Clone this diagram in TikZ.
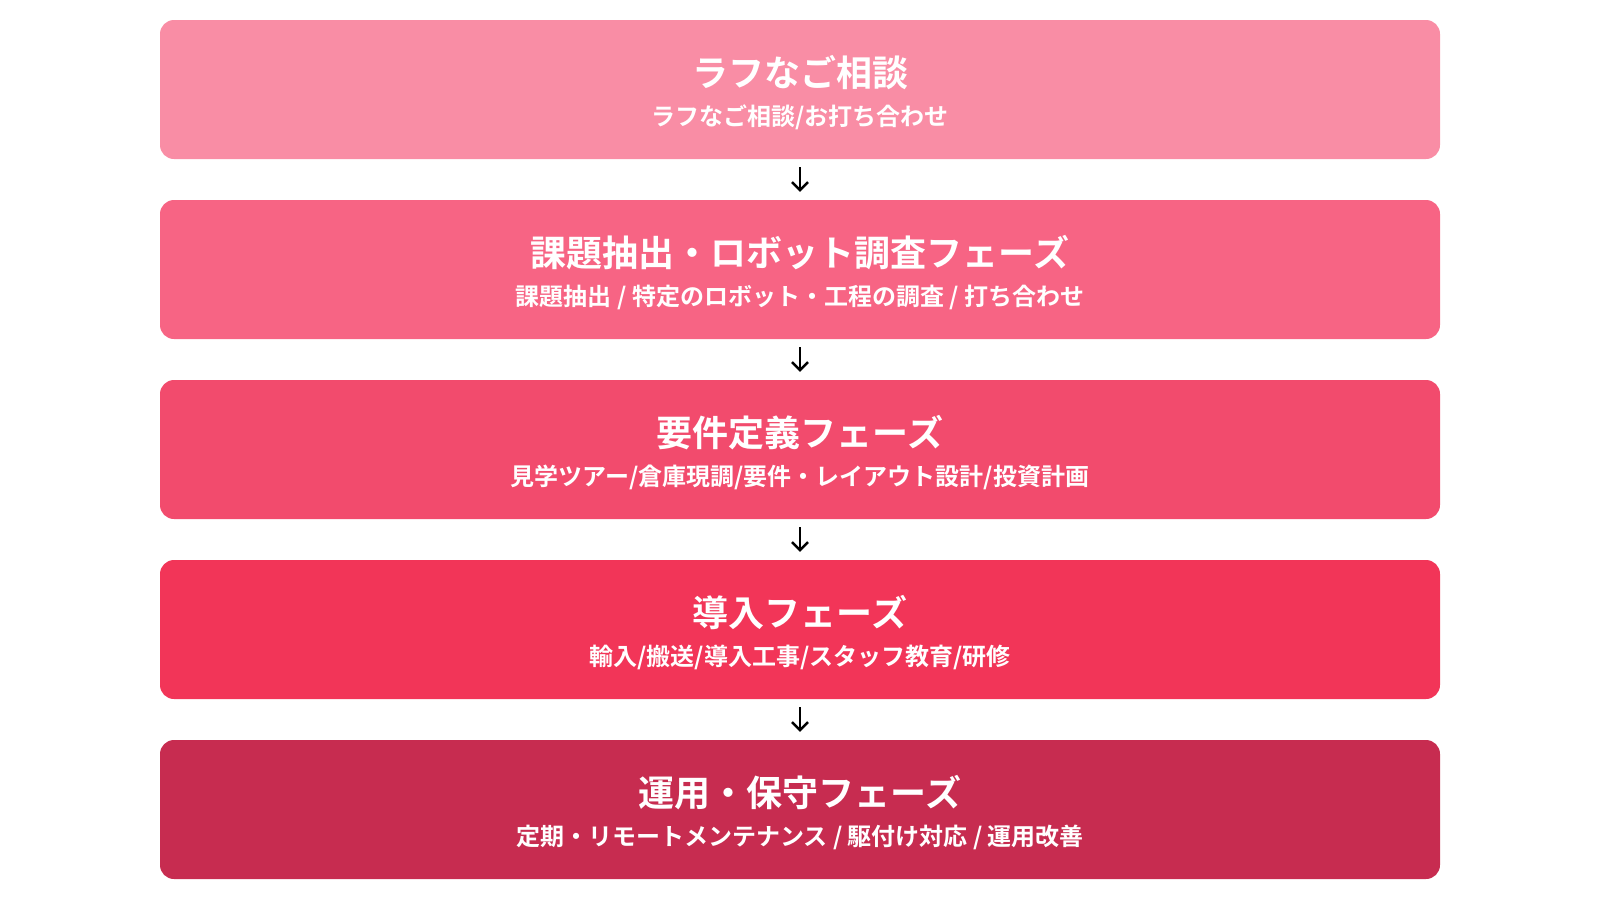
\documentclass[tikz,border=0pt]{standalone}
\usepackage{fontspec}
\setmainfont{Noto Sans CJK JP}[BoldFont={Noto Sans CJK JP Bold}]
\usetikzlibrary{arrows.meta}
\definecolor{c1}{HTML}{F98DA5}
\definecolor{c2}{HTML}{F76484}
\definecolor{c3}{HTML}{F24B6D}
\definecolor{c4}{HTML}{F23558}
\definecolor{c5}{HTML}{C72C50}
\begin{document}
\begin{tikzpicture}[x=1pt,y=1pt,
  phase/.style={rounded corners=14pt,minimum width=1280pt,minimum height=139pt,inner sep=0pt},
  ttl/.style={text=white,font=\bfseries\fontsize{36}{40}\selectfont},
  sub/.style={text=white,font=\bfseries\fontsize{24}{28}\selectfont},
  arr/.style={-{Straight Barb[length=8pt,width=16pt,line width=2.5pt]},line width=2.5pt,black}]
\useasboundingbox (0,0) rectangle (1600,-900);
\def\row#1#2#3#4#5{%
  \node[phase,fill=#2] (b#1) at (800,-#3) {};
  \node[ttl] (t#1) at (800,-#3+17) {#4};
  \node[sub] (s#1) at (800,-#3-28) {#5};}
\row{1}{c1}{89.5}{ラフなご相談}{ラフなご相談/お打ち合わせ}
\row{2}{c2}{269.5}{課題抽出・ロボット調査フェーズ}{課題抽出 / 特定のロボット・工程の調査 / 打ち合わせ}
\row{3}{c3}{449.5}{要件定義フェーズ}{見学ツアー/倉庫現調/要件・レイアウト設計/投資計画}
\row{4}{c4}{629.5}{導入フェーズ}{輸入/搬送/導入工事/スタッフ教育/研修}
\row{5}{c5}{809.5}{運用・保守フェーズ}{定期・リモートメンテナンス / 駆付け対応 / 運用改善}
\foreach \a/\b in {1/2,2/3,3/4,4/5}{
  \draw[arr] ([yshift=-8pt]b\a.south) -- ([yshift=8pt]b\b.north);}
\end{tikzpicture}
\end{document}
